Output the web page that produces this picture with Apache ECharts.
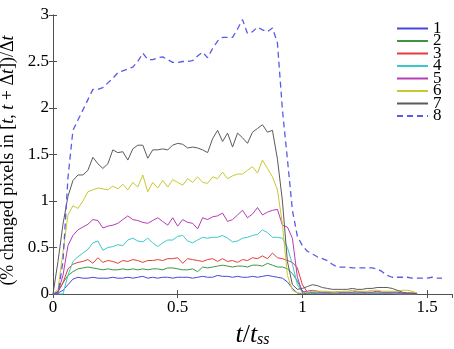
<!DOCTYPE html>
<html>
<head>
<meta charset="utf-8">
<script src="https://cdn.jsdelivr.net/npm/echarts@6/dist/echarts.min.js"></script>
<style>
  html, body { margin: 0; padding: 0; background: #fff; }
  #chart { width: 454px; height: 349px; }
</style>
</head>
<body>
<div id="chart"></div>
<script>
  // sample times t/t_ss
  var time = [0,0.02,0.04,0.06,0.08,0.1,0.12,0.14,0.16,0.18,
    0.2,0.22,0.24,0.26,0.28,0.3,0.32,0.34,0.36,0.38,
    0.4,0.42,0.44,0.46,0.48,0.5,0.52,0.54,0.56,0.58,
    0.6,0.62,0.64,0.66,0.68,0.7,0.72,0.74,0.76,0.78,
    0.8,0.82,0.84,0.86,0.88,0.9,0.92,0.94,0.96,0.98,
    1.0,1.02,1.04,1.06,1.08,1.1,1.12,1.14,1.16,1.18,
    1.2,1.22,1.24,1.26,1.28,1.3,1.32,1.34,1.36,1.38,
    1.4,1.42,1.44,1.46,1.48,1.5,1.52,1.54,1.56]

  var s1 = [0,0.01,0.04,0.1,0.16,0.18,0.17,0.17,0.18,0.17,
    0.17,0.17,0.18,0.17,0.17,0.18,0.17,0.18,0.19,0.17,
    0.18,0.17,0.18,0.18,0.17,0.18,0.18,0.18,0.17,0.18,
    0.19,0.18,0.18,0.2,0.19,0.19,0.18,0.19,0.18,0.18,
    0.19,0.18,0.19,0.2,0.19,0.18,0.17,0.13,0.06,0.01,
    0,0.01,0.01,0,0,0,0.01,0.01,0,0,
    0,0.01,0.01,0,0,0,0,0.01,0,0,
    0,0,0,0]
  var s2 = [0,0.03,0.12,0.2,0.24,0.27,0.28,0.29,0.28,0.27,
    0.26,0.27,0.26,0.26,0.27,0.26,0.27,0.26,0.27,0.26,
    0.27,0.27,0.26,0.28,0.28,0.27,0.26,0.26,0.27,0.24,
    0.29,0.28,0.29,0.3,0.31,0.3,0.29,0.3,0.3,0.29,
    0.31,0.31,0.3,0.33,0.31,0.29,0.29,0.27,0.22,0.14,
    0.03,0.01,0.02,0.02,0.01,0.01,0.01,0.02,0.01,0.01,
    0.01,0.01,0.02,0.01,0.01,0.01,0.01,0.01,0.01,0.01,
    0.01,0,0,0]
  var s3 = [0,0.02,0.12,0.27,0.32,0.34,0.35,0.37,0.33,0.39,
    0.34,0.36,0.35,0.33,0.36,0.35,0.37,0.36,0.34,0.36,
    0.36,0.37,0.36,0.38,0.38,0.39,0.33,0.38,0.37,0.36,
    0.35,0.37,0.38,0.35,0.38,0.35,0.36,0.34,0.37,0.36,
    0.39,0.38,0.41,0.38,0.44,0.39,0.38,0.36,0.34,0.28,
    0.1,0.02,0.01,0.01,0.01,0.01,0.01,0.01,0.01,0.01,
    0.01,0.01,0.01,0.01,0.01,0.01,0.01,0.01,0.01,0.01,
    0,0,0,0]
  var s4 = [0,0,0,0.2,0.35,0.4,0.44,0.48,0.55,0.57,
    0.47,0.5,0.51,0.53,0.52,0.58,0.6,0.57,0.56,0.6,
    0.55,0.51,0.55,0.58,0.58,0.62,0.63,0.57,0.55,0.58,
    0.61,0.6,0.61,0.61,0.63,0.6,0.56,0.57,0.6,0.61,
    0.63,0.64,0.69,0.66,0.61,0.61,0.6,0.5,0.32,0.1,
    0.02,0.01,0.01,0.01,0.01,0.01,0.01,0.01,0.01,0.01,
    0.01,0.01,0.01,0.01,0.01,0.01,0.01,0.01,0.01,0,
    0,0,0,0]
  var s5 = [0,0.02,0.2,0.52,0.63,0.69,0.72,0.75,0.8,0.79,
    0.71,0.73,0.74,0.76,0.8,0.84,0.8,0.79,0.77,0.76,
    0.79,0.82,0.78,0.74,0.82,0.73,0.8,0.77,0.76,0.7,
    0.82,0.8,0.83,0.84,0.87,0.78,0.8,0.85,0.9,0.82,
    0.86,0.93,0.85,0.88,0.9,0.91,0.74,0.72,0.6,0.18,
    0.02,0.03,0.04,0.03,0.02,0.02,0.02,0.02,0.02,0.02,
    0.02,0.03,0.02,0.02,0.02,0.03,0.02,0.02,0.02,0.02,
    0.01,0.01,0.01,0.01]
  var s6 = [0,0.05,0.45,0.85,0.95,0.92,1.0,1.1,1.12,1.14,
    1.13,1.12,1.16,1.13,1.18,1.12,1.2,1.15,1.28,1.1,
    1.2,1.14,1.22,1.15,1.23,1.2,1.17,1.24,1.2,1.26,
    1.2,1.19,1.26,1.24,1.31,1.24,1.27,1.29,1.29,1.33,
    1.37,1.3,1.44,1.35,1.26,1.12,0.75,0.2,0.04,0.01,
    0.01,0.02,0.03,0.03,0.03,0.03,0.02,0.02,0.03,0.03,
    0.04,0.03,0.03,0.03,0.04,0.04,0.03,0.03,0.03,0.03,
    0.04,0.04,0.03,0.01]
  var s7 = [0,0.35,0.75,1.05,1.22,1.28,1.28,1.33,1.47,1.4,
    1.35,1.4,1.55,1.52,1.53,1.44,1.56,1.6,1.6,1.46,
    1.55,1.55,1.56,1.55,1.6,1.62,1.61,1.57,1.58,1.57,
    1.55,1.52,1.67,1.76,1.64,1.73,1.58,1.73,1.68,1.62,
    1.74,1.78,1.82,1.74,1.76,1.45,1.0,0.35,0.1,0.05,
    0.06,0.08,0.1,0.09,0.07,0.06,0.05,0.05,0.05,0.05,
    0.06,0.05,0.05,0.06,0.06,0.07,0.07,0.07,0.06,0.04,
    0.02,0.01,0.01,0]
  var s8 = [0,0,0.35,1.25,1.76,1.87,1.98,2.09,2.2,2.2,
    2.22,2.27,2.32,2.38,2.4,2.42,2.44,2.5,2.59,2.52,
    2.52,2.54,2.55,2.52,2.49,2.49,2.5,2.5,2.51,2.56,
    2.6,2.54,2.64,2.72,2.76,2.76,2.76,2.85,2.95,2.8,
    2.82,2.87,2.84,2.82,2.86,2.7,1.98,1.45,0.9,0.62,
    0.52,0.46,0.43,0.4,0.38,0.36,0.32,0.29,0.29,0.29,
    0.28,0.28,0.28,0.28,0.28,0.27,0.24,0.2,0.18,0.18,
    0.18,0.18,0.17,0.17,0.17,0.17,0.18,0.17,0.17]

  var names = ['1','2','3','4','5','6','7','8']
  var values = [s1, s2, s3, s4, s5, s6, s7, s8]
  var colors = ['#4646dc','#3c9640','#e43c3c','#3cc8c8','#b43cb4','#c8c832','#5a5a5a','#5a5ae6']

  var font = "'Liberation Serif', 'DejaVu Serif', serif"

  function pairs (vals) {
    var out = []
    for (var i = 0; i < vals.length; i++) {
      out.push([time[i], vals[i]])
    }
    return out
  }

  var series = []
  for (var i = 0; i < names.length; i++) {
    series.push({
      name: names[i],
      type: 'line',
      symbol: 'none',
      symbolSize: 0,
      data: pairs(values[i]),
      lineStyle: {
        color: colors[i],
        width: i === 7 ? 1.3 : 1,
        type: i === 7 ? [6, 4] : 'solid',
      },
      itemStyle: { color: colors[i] },
    })
  }

  var boxLine = { show: true, lineStyle: { color: '#505050', width: 1 } }
  var inTick = { show: true, inside: true, length: 4, lineStyle: { color: '#505050' } }

  var chart = echarts.init(document.getElementById('chart'))
  chart.setOption({
    animation: false,
    grid: { left: 53, right: 2, top: 15, bottom: 55, outerBoundsMode: 'none', containLabel: false },
    legend: {
      data: names,
      orient: 'vertical',
      left: 396,
      top: 20,
      padding: 0,
      itemGap: -4.5,
      itemWidth: 31,
      itemHeight: 12,
      itemStyle: { opacity: 0 },
      textStyle: { fontFamily: font, fontSize: 17, lineHeight: 12, color: '#000' },
    },
    xAxis: [{
      type: 'value',
      min: 0,
      max: 1.6,
      interval: 0.5,
      splitLine: { show: false },
      axisLine: boxLine,
      axisTick: inTick,
      axisLabel: { showMaxLabel: false, color: '#000', fontFamily: font, fontSize: 17, margin: 5 },
      name: '{i|t}{n|/}{i|t}{s|ss}',
      nameLocation: 'middle',
      nameGap: 28,
      nameTextStyle: {
        fontFamily: font,
        fontSize: 26,
        color: '#000',
        rich: {
          i: { fontFamily: font, fontStyle: 'italic', fontSize: 26, color: '#000' },
          n: { fontFamily: font, fontSize: 26, color: '#000' },
          s: { fontFamily: font, fontStyle: 'italic', fontSize: 16, color: '#000', padding: [10, 0, 0, 0] },
        },
      },
    }, {
      type: 'value',
      position: 'top',
      min: 0,
      max: 1.6,
      interval: 0.5,
      splitLine: { show: false },
      axisLine: boxLine,
      axisTick: inTick,
      axisLabel: { show: false },
    }],
    yAxis: [{
      type: 'value',
      min: 0,
      max: 3,
      interval: 0.5,
      splitLine: { show: false },
      axisLine: boxLine,
      axisTick: inTick,
      axisLabel: { color: '#000', fontFamily: font, fontSize: 17, margin: 4 },
      name: '(% changed pixels in [{i|t}, {i|t} + Δ{i|t}])/Δ{i|t}',
      nameLocation: 'middle',
      nameRotate: 90,
      nameGap: 35,
      nameTextStyle: {
        fontFamily: font,
        fontSize: 18,
        color: '#000',
        padding: [0, 12, 0, 0],
        rich: {
          i: { fontFamily: font, fontStyle: 'italic', fontSize: 18, color: '#000' },
        },
      },
    }, {
      type: 'value',
      position: 'right',
      min: 0,
      max: 3,
      interval: 0.5,
      splitLine: { show: false },
      axisLine: boxLine,
      axisTick: inTick,
      axisLabel: { show: false },
    }],
    series: series,
  })
</script>
</body>
</html>
